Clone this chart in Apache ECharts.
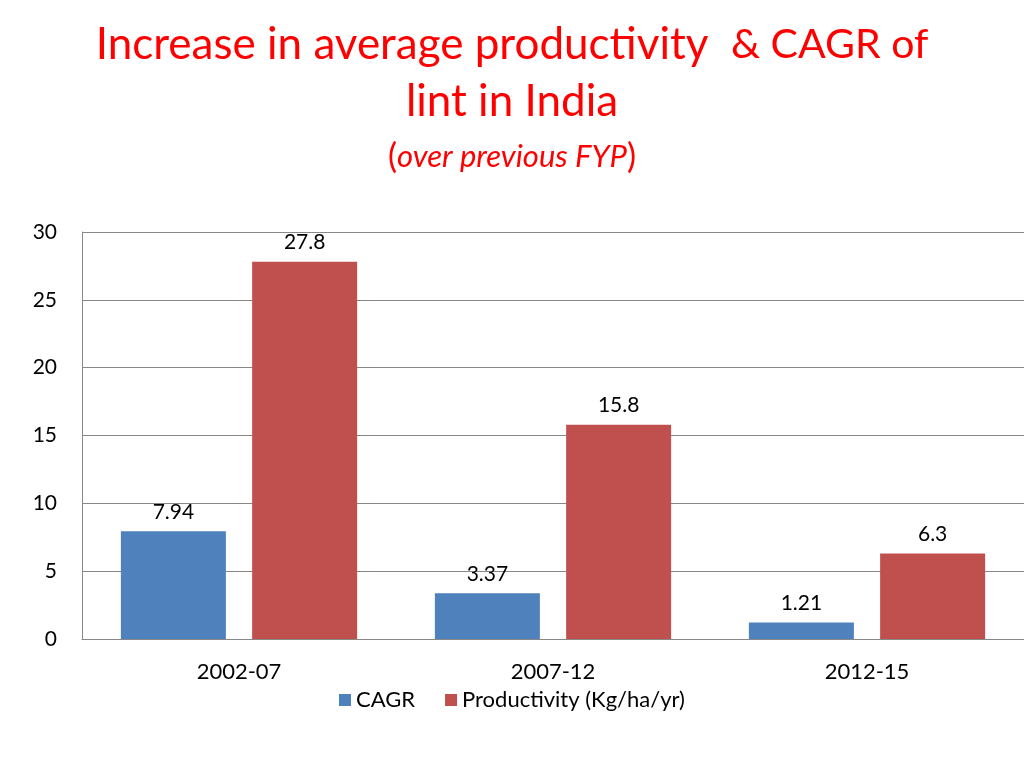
<!DOCTYPE html>
<html>
<head>
<meta charset="utf-8">
<script src="https://cdn.jsdelivr.net/npm/echarts@6/dist/echarts.min.js"></script>
<style>
  html, body { margin: 0; padding: 0; background: #fff; }
  #chart { width: 1024px; height: 768px; }
</style>
</head>
<body>
<div id="chart"></div>
<script>
var periods = ['2002-07', '2007-12', '2012-15'];
var cagr = [7.94, 3.37, 1.21];
var productivity = [27.8, 15.8, 6.3];
var yTicks = [0, 5, 10, 15, 20, 25, 30];

var FONT = 'Lato';
var mychart = echarts.init(document.getElementById('chart'));

var option = {
    animation: false,
    textStyle: { fontFamily: FONT },
    title: [
        {
            text: '{a|Increase in average productivity  }{b|& CAGR of}\n{a|lint in India}',
            left: 'center',
            top: 11,
            textStyle: {
                fontWeight: 'normal',
                align: 'center',
                rich: {
                    a: { fontFamily: FONT, fontSize: 44, color: '#ff0000', lineHeight: 57, fontWeight: 'normal' },
                    b: { fontFamily: FONT, fontSize: 41, color: '#ff0000', lineHeight: 57, fontWeight: 'normal' }
                }
            }
        },
        {
            text: '{p|(}{i|over previous FYP}{p|)}',
            left: 'center',
            top: 135,
            textStyle: {
                fontWeight: 'normal',
                rich: {
                    p: { fontFamily: FONT, fontSize: 34, color: '#ff0000', fontWeight: 'normal' },
                    i: { fontFamily: FONT, fontSize: 31, fontStyle: 'italic', color: '#ff0000', fontWeight: 'normal' }
                }
            }
        }
    ],
    legend: {
        bottom: 52,
        left: 'center',
        itemWidth: 12,
        itemHeight: 12,
        itemGap: 30,
        itemTextGap: 6,
        icon: 'rect',
        textStyle: { fontFamily: FONT, fontSize: 22, color: '#000' },
        data: ['CAGR', 'Productivity (Kg/ha/yr)']
    },
    grid: {
        left: 82,
        right: 0,
        top: 232,
        bottom: 129,
        containLabel: false
    },
    xAxis: {
        type: 'category',
        data: periods,
        axisLine: { lineStyle: { color: '#888', width: 1 } },
        axisTick: { show: false },
        axisLabel: { fontFamily: FONT, fontSize: 22, color: '#000', margin: 22 }
    },
    yAxis: {
        type: 'value',
        min: yTicks[0],
        max: yTicks[yTicks.length - 1],
        interval: 5,
        axisLine: { show: true, lineStyle: { color: '#888', width: 1 } },
        axisTick: { show: false },
        axisLabel: { fontFamily: FONT, fontSize: 21, color: '#000', margin: 25,
            formatter: function (v) { return yTicks.indexOf(v) >= 0 ? String(v) : ''; } },
        splitLine: { lineStyle: { color: '#888', width: 1 } }
    },
    series: [
        {
            name: 'CAGR',
            type: 'bar',
            data: cagr,
            barWidth: 105,
            barGap: '25%',
            itemStyle: { color: '#4f81bd' },
            label: { show: true, position: 'top', distance: 9, fontFamily: FONT, fontSize: 21, color: '#000' }
        },
        {
            name: 'Productivity (Kg/ha/yr)',
            type: 'bar',
            data: productivity,
            barWidth: 105,
            barGap: '25%',
            itemStyle: { color: '#c0504d' },
            label: { show: true, position: 'top', distance: 9, fontFamily: FONT, fontSize: 21, color: '#000' }
        }
    ]
};
mychart.setOption(option);
</script>
</body>
</html>
